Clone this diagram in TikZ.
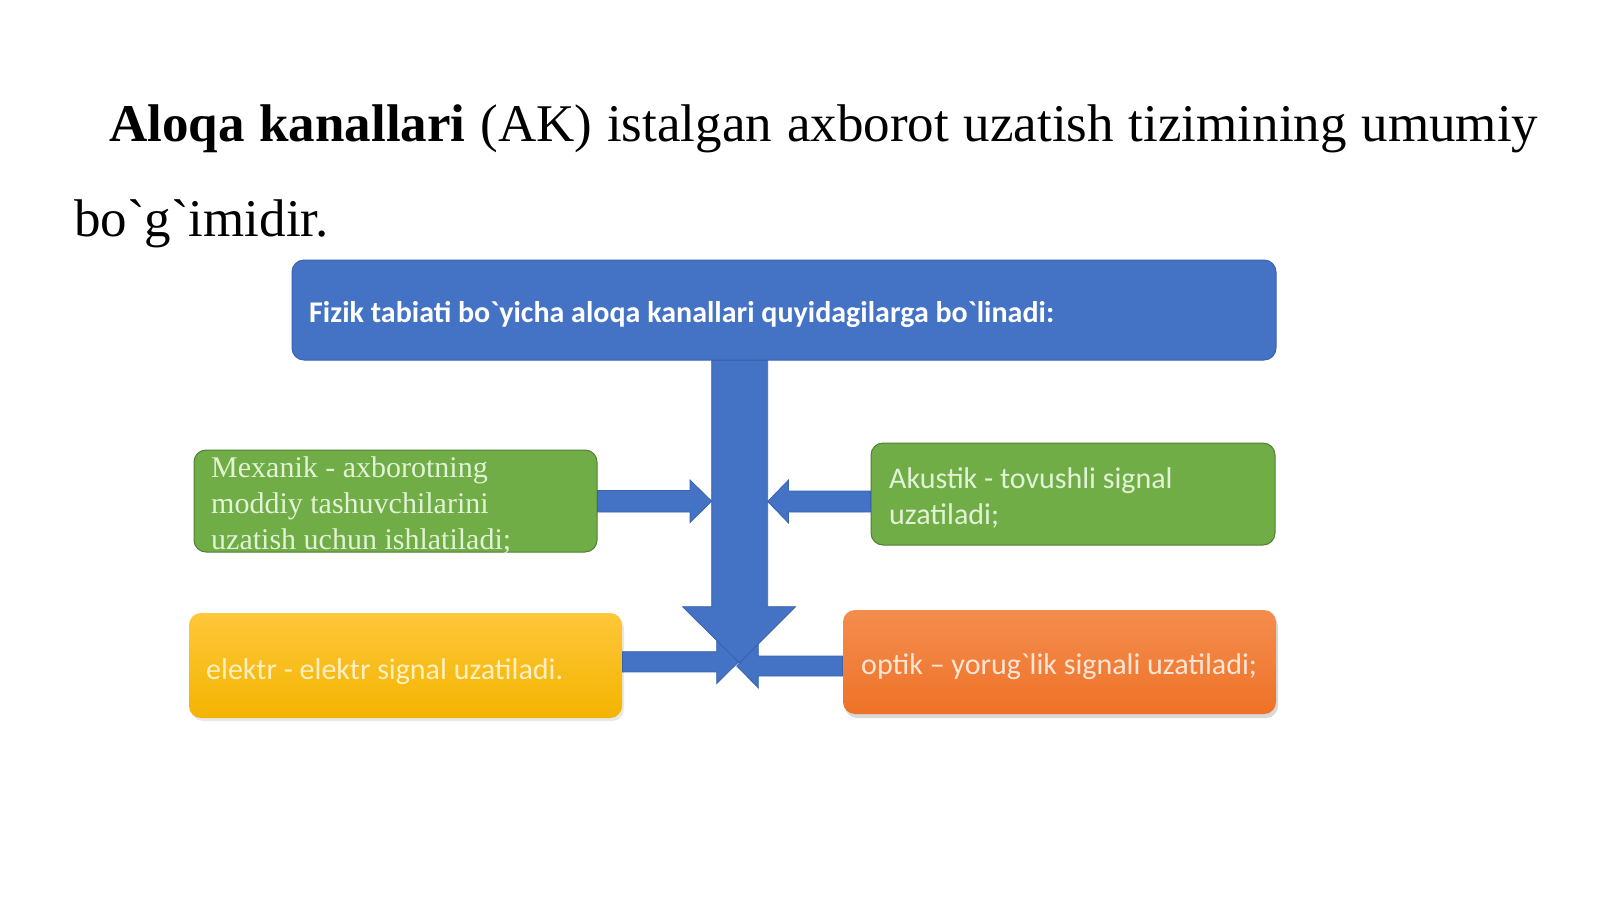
\documentclass[tikz,border=0pt]{standalone}
\usepackage{fontspec}
\setmainfont{Liberation Serif}[Ligatures=TeXOff]
\newfontfamily\cali{Carlito}[Ligatures=TeXOff]
\usetikzlibrary{shadows}
\definecolor{blu}{HTML}{4472C4}
\definecolor{bluline}{HTML}{3A63AE}
\definecolor{grn}{HTML}{70AD47}
\definecolor{grnline}{HTML}{527F33}
\definecolor{grntxt}{HTML}{E2F2D6}
\definecolor{yelTop}{HTML}{FFC73A}
\definecolor{yelBot}{HTML}{F3B400}
\definecolor{yeltxt}{HTML}{FFF0C4}
\definecolor{orTop}{HTML}{F48D4E}
\definecolor{orBot}{HTML}{EE7227}
\definecolor{ortxt}{HTML}{FDE6D6}
\tikzset{
  box/.style={rectangle, rounded corners=12pt, inner sep=0pt, line width=1pt},
  blockarrow/.style={fill=blu, draw=bluline, line width=0.8pt, line join=miter},
  txt/.style={inner sep=0pt, align=left},
}
\begin{document}
\begin{tikzpicture}[x=1pt,y=-1pt]
\useasboundingbox (0,0) rectangle (1600,899);
\fill[white] (0,0) rectangle (1600,899);

% title
\node[anchor=base west, inner sep=0pt, font=\fontsize{53}{64}\selectfont] (t1) at (109,141)
  {\makebox[1429pt][s]{\textbf{Aloqa kanallari} (AK) istalgan axborot uzatish tizimining umumiy}};
\node[anchor=base west, inner sep=0pt, font=\fontsize{53}{64}\selectfont] (t2) at (74,236) {bo`g`imidir.};

% boxes
\node[box, fill=blu, draw=bluline, minimum width=984pt, minimum height=100pt] (top) at (784,310) {};
\node[box, fill=grn, draw=grnline, minimum width=403pt, minimum height=102pt] (mex) at (395.5,501) {};
\node[box, fill=grn, draw=grnline, minimum width=404pt, minimum height=102pt] (aku) at (1073,494) {};
\node[box, top color=yelTop, bottom color=yelBot, draw=none, minimum width=433pt, minimum height=105pt,
  drop shadow={opacity=0.18, shadow xshift=2pt, shadow yshift=-3pt}] (ele) at (405.5,665.5) {};
\node[box, top color=orTop, bottom color=orBot, draw=none, minimum width=433pt, minimum height=104pt,
  drop shadow={opacity=0.3, shadow xshift=2pt, shadow yshift=-4pt}] (opt) at (1059.5,662) {};

% block arrows
\fill[blockarrow] (top.south -| 711.7,0) -- (711.7,606.7) -- (682.7,606.7) -- (739.2,663)
  -- (795.5,606.7) -- (767.7,606.7) -- (top.south -| 767.7,0) -- cycle;
\fill[blockarrow] (mex.east |- 0,490.5) -- (690,490.5) -- (690,480) -- (711.7,501.2)
  -- (690,522.5) -- (690,512) -- (mex.east |- 0,512) -- cycle;
\fill[blockarrow] (aku.west |- 0,491) -- (788.5,491) -- (788.5,480) -- (767.7,501.5)
  -- (788.5,523) -- (788.5,512) -- (aku.west |- 0,512) -- cycle;
\fill[blockarrow] (ele.east |- 0,651.7) -- (716.7,651.7) -- (716.7,640.5) -- (738.5,662)
  -- (716.7,683.5) -- (716.7,671.9) -- (ele.east |- 0,671.9) -- cycle;
\fill[blockarrow] (opt.west |- 0,656) -- (758.3,656) -- (758.3,644) -- (736.8,666)
  -- (758.3,688) -- (758.3,676) -- (opt.west |- 0,676) -- cycle;

% texts
\node[anchor=base west, inner sep=0pt, text=white, font=\cali\bfseries\fontsize{30}{36}\selectfont] (toptxt) at (309,322)
  {Fizik tabiati bo`yicha aloqa kanallari quyidagilarga bo`linadi:};
\node[txt, anchor=base west, text=grntxt, font=\fontsize{30}{35.7}\selectfont] (mextxt) at (211,549)
  {Mexanik - axborotning\\moddiy tashuvchilarini\\uzatish uchun ishlatiladi;};
\node[txt, anchor=base west, text=grntxt, font=\cali\fontsize{30}{35.5}\selectfont] (akutxt) at (889,524)
  {Akustik - tovushli signal\\uzatiladi;};
\node[txt, anchor=base west, text=yeltxt, font=\cali\fontsize{30}{36}\selectfont] (eletxt) at (206,679)
  {elektr - elektr signal uzatiladi.};
\node[txt, anchor=base west, text=ortxt, font=\cali\fontsize{30}{36}\selectfont] (opttxt) at (861,674)
  {optik – yorug`lik signali uzatiladi;};
\end{tikzpicture}
\end{document}
